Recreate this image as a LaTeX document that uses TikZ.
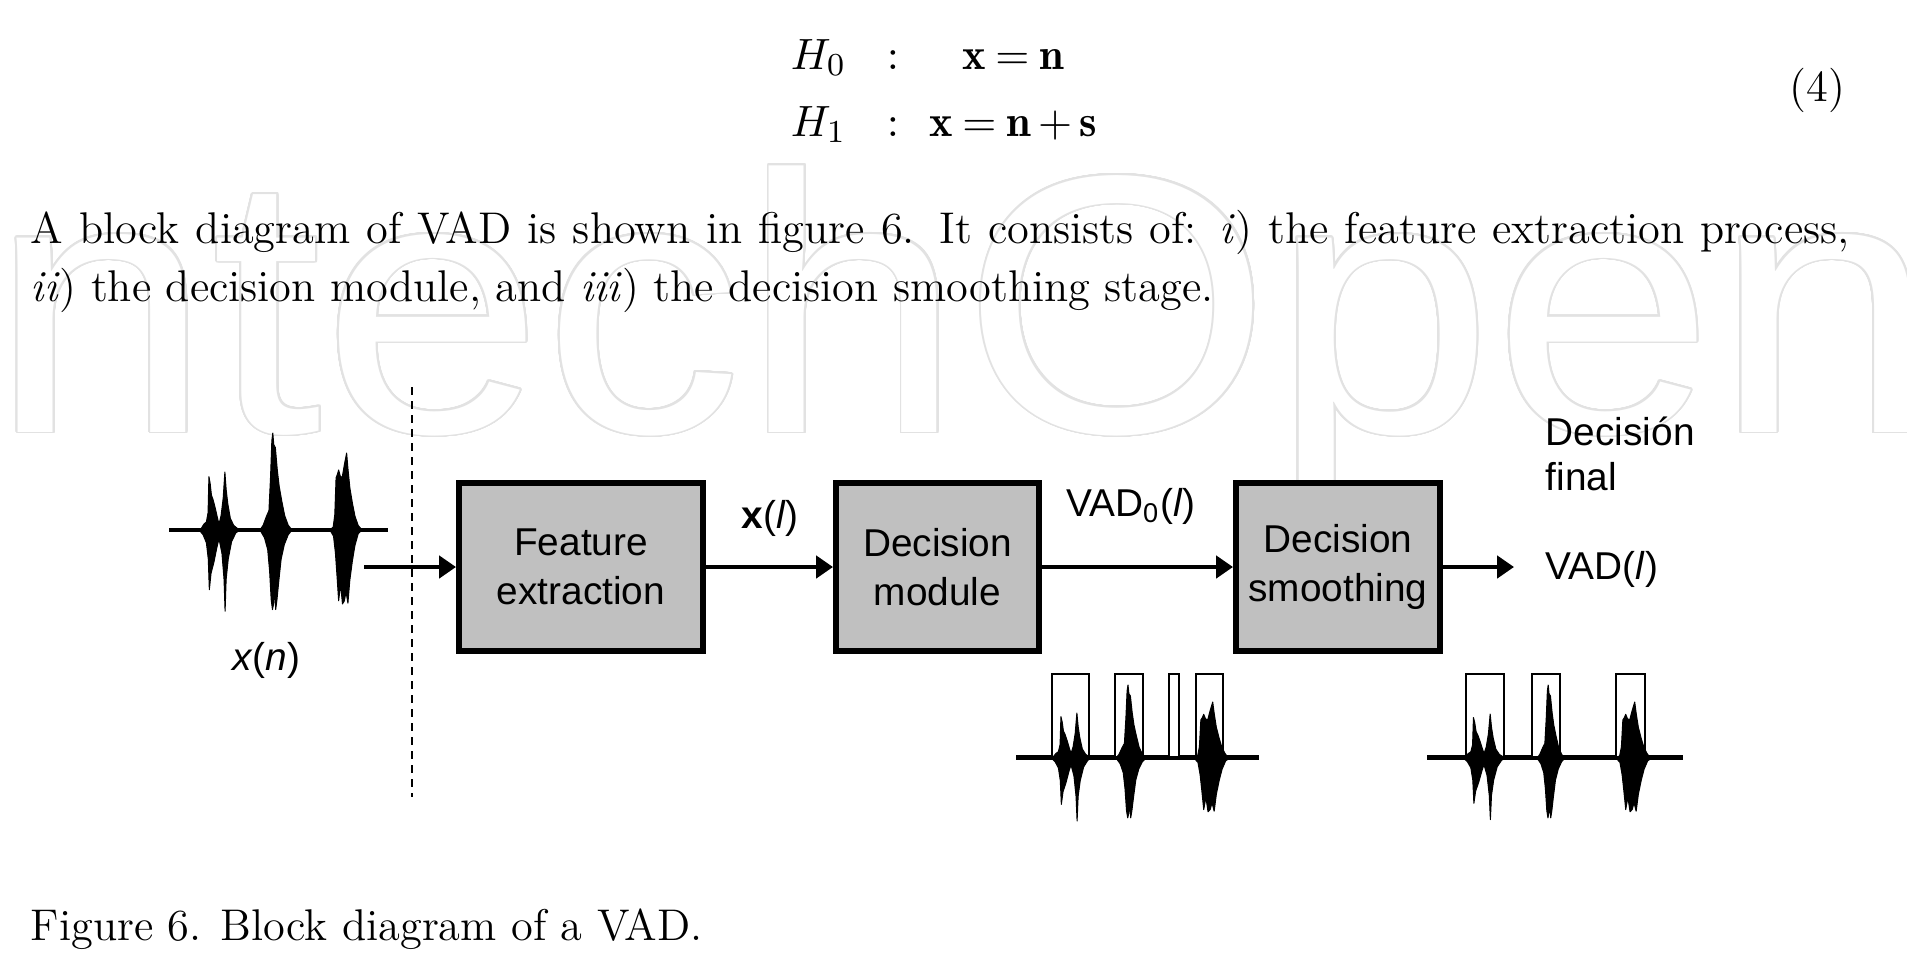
\documentclass[tikz,border=0pt]{standalone}
\usepackage{fontspec}
\usepackage{contour}
\newfontfamily\diagfamily{Liberation Sans}
\newfontfamily\wmfamily{Liberation Sans}
\usetikzlibrary{arrows.meta}
\definecolor{boxgray}{RGB}{192,192,192}
\definecolor{wmgray}{RGB}{226,226,226}
\newcommand{\diagfont}{\diagfamily\fontsize{9.7pt}{12.1pt}\selectfont}
\newcommand{\bodyfont}{\fontsize{11.1pt}{14.6pt}\selectfont}
\contourlength{0.45pt}
\contournumber{32}
\newcommand{\vadburstA}[4]{\begin{scope}[shift={(#1,#2)},xscale=#3,yscale=#4]
\fill[sigfill] (0,0) -- (0.08,-0.03) -- (0.14,-0.1) -- (0.2,-0.14) -- (0.24,-0.3) -- (0.26,-0.92) -- (0.29,-0.8) -- (0.32,-0.6) -- (0.36,-0.52) -- (0.41,-0.38) -- (0.46,-0.22) -- (0.5,-0.1) -- (0.55,-0.25) -- (0.6,-0.55) -- (0.64,-1.0) -- (0.67,-0.7) -- (0.71,-0.45) -- (0.77,-0.2) -- (0.85,-0.08) -- (0.95,-0.02) -- (1,0) -- (0.9,0.05) -- (0.8,0.2) -- (0.72,0.5) -- (0.67,0.85) -- (0.645,1.4) -- (0.62,0.85) -- (0.57,0.4) -- (0.5,0.15) -- (0.45,0.3) -- (0.38,0.55) -- (0.31,0.75) -- (0.27,1.03) -- (0.245,0.5) -- (0.2,0.22) -- (0.12,0.08) -- (0.05,0.02) -- cycle;
\end{scope}}
\newcommand{\vadburstB}[4]{\begin{scope}[shift={(#1,#2)},xscale=#3,yscale=#4]
\fill[sigfill] (0,0) -- (0.1,-0.05) -- (0.2,-0.14) -- (0.28,-0.2) -- (0.33,-0.55) -- (0.37,-0.92) -- (0.4,-1.0) -- (0.43,-0.88) -- (0.48,-0.85) -- (0.54,-0.62) -- (0.6,-0.45) -- (0.68,-0.3) -- (0.77,-0.15) -- (0.88,-0.05) -- (1,0) -- (0.88,0.05) -- (0.76,0.15) -- (0.66,0.3) -- (0.58,0.55) -- (0.53,0.72) -- (0.49,0.82) -- (0.46,0.6) -- (0.43,0.75) -- (0.39,0.82) -- (0.35,0.72) -- (0.3,0.42) -- (0.24,0.2) -- (0.14,0.08) -- cycle;
\end{scope}}
\newcommand{\vadburstC}[4]{\begin{scope}[shift={(#1,#2)},xscale=#3,yscale=#4]
\fill[sigfill] (0,0) -- (0.1,-0.04) -- (0.15,-0.2) -- (0.19,-0.68) -- (0.23,-0.72) -- (0.27,-0.78) -- (0.32,-0.7) -- (0.38,-0.68) -- (0.45,-0.85) -- (0.52,-1.0) -- (0.56,-0.8) -- (0.62,-0.55) -- (0.7,-0.35) -- (0.78,-0.18) -- (0.88,-0.06) -- (1,0) -- (0.88,0.05) -- (0.78,0.2) -- (0.7,0.4) -- (0.62,0.65) -- (0.56,0.95) -- (0.5,0.8) -- (0.45,0.92) -- (0.39,0.96) -- (0.33,0.7) -- (0.27,0.92) -- (0.22,0.6) -- (0.17,0.3) -- (0.11,0.08) -- cycle;
\end{scope}}
\begin{document}
\begin{tikzpicture}[x=0.25pt,y=-0.25pt,
  blk/.style={draw=black, line width=1.5pt, fill=boxgray, inner sep=0pt,
    minimum height=42pt, font=\diagfont, align=center},
  conn/.style={line width=1pt, -{Triangle[length=4.2pt,width=5.5pt]}},
  lbl/.style={font=\diagfont, inner sep=0pt},
  body/.style={font=\bodyfont, inner sep=0pt, anchor=base west},
  eqn/.style={font=\bodyfont, inner sep=0pt, anchor=base},
  sigfill/.style={fill=black, draw=black, line width=0.25pt, line join=round},
  sigbase/.style={line width=1pt},
  pulse/.style={line width=0.5pt},
  sep/.style={line width=0.4pt, dash pattern=on 2pt off 1.5pt}]
\useasboundingbox (0,0) rectangle (1907,965);
\fill[white] (0,0) rectangle (1907,965);

% watermark
\node[anchor=base west, inner sep=0pt, font=\wmfamily\fontsize{92pt}{92pt}\selectfont] (wm) at (-10,432) {\scalebox{1.08}[1]{\color{white}\contour{wmgray}{ntechOpen}}};

% equation
\node[body] (h0) at (790,69) {$H_0$};
\node[body] (c0) at (886,69) {$:$};
\node[eqn] (e0) at (1013,69) {$\thickmuskip=4mu \mathbf{x}=\mathbf{n}$};
\node[body] (h1) at (790,136) {$H_1$};
\node[body] (c1) at (886,136) {$:$};
\node[eqn] (e1) at (1013,136) {$\thickmuskip=4mu \medmuskip=3mu \mathbf{x}=\mathbf{n}+\mathbf{s}$};
\node[font=\bodyfont, inner sep=0pt, anchor=base east] (eqno) at (1846,101) {(4)};

% paragraph
\node[body] (p1) at (30,243) {\makebox[454.75pt][s]{A block diagram of VAD is shown in figure 6. It consists of: \textit{i}) the feature extraction process,}};
\node[body] (p2) at (30,301) {\textit{ii}) the decision module, and \textit{iii}) the decision smoothing stage.};

% caption
\node[body] (cap) at (30,940) {Figure 6. Block diagram of a VAD.};

% separator
\coordinate (dtop) at (412,387);
\coordinate (dbot) at (412,797);
\draw[sep] (dtop) -- (dbot);

% blocks
\node[blk, minimum width=61pt] (feat) at (581,567) {Feature\\extraction};
\node[blk, minimum width=50.75pt] (dec) at (937.5,567) {Decision\\module};
\node[blk, minimum width=51pt] (smo) at (1338,567) {Decision\\smoothing};

\coordinate (sigout) at (364,567);
\coordinate (outend) at (1514,567);
\draw[conn] (sigout) -- (feat.west);
\draw[conn] (feat.east) -- (dec.west);
\draw[conn] (dec.east) -- (smo.west);
\draw[conn] (smo.east) -- (outend);

% labels
\node[lbl, anchor=base] (xl) at (770,528) {\textbf{x}(\textit{l})};
\node[lbl, anchor=base] (vad0) at (1131,516) {VAD\textsubscript{0}(\textit{l})};
\node[lbl, anchor=base west] (dfa) at (1545,445) {Decisión};
\node[lbl, anchor=base west] (dfb) at (1545,490) {final};
\node[lbl, anchor=base west] (vadl) at (1545,579) {VAD(\textit{l})};
\node[lbl, anchor=base] (xn) at (266,670) {\textit{x}(\textit{n})};

% input signal
\draw[sigbase] (169,530) -- (388,530);
\vadburstA{198}{530}{42}{58}
\vadburstB{260}{530}{32}{97}
\vadburstC{330}{530}{32}{77}

% VAD0 signal
\draw[sigbase] (1016,758) -- (1259,758);
\vadburstA{1050}{758}{42}{45}
\vadburstB{1116}{758}{30}{73}
\vadburstC{1194}{758}{36}{56}
\draw[pulse] (1016,756) -- (1052,756) -- (1052,674) -- (1089,674) -- (1089,756) -- (1115,756) -- (1115,674) -- (1143,674) -- (1143,756) -- (1169,756) -- (1169,674) -- (1179,674) -- (1179,756) -- (1196,756) -- (1196,674) -- (1223,674) -- (1223,756) -- (1259,756);

% final signal
\draw[sigbase] (1427,758) -- (1683,758);
\vadburstA{1462}{758}{44}{44}
\vadburstB{1537}{758}{28}{73}
\vadburstC{1616}{758}{36}{56}
\draw[pulse] (1427,756) -- (1466,756) -- (1466,674) -- (1504,674) -- (1504,756) -- (1532,756) -- (1532,674) -- (1560,674) -- (1560,756) -- (1616,756) -- (1616,674) -- (1645,674) -- (1645,756) -- (1683,756);
\end{tikzpicture}
\end{document}
